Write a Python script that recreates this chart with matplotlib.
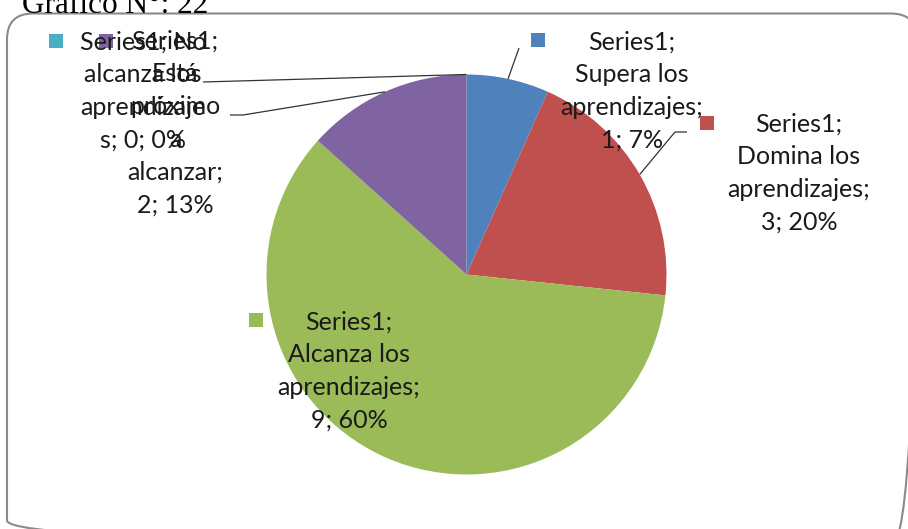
import numpy as np
import matplotlib
matplotlib.use("Agg")
import matplotlib.pyplot as plt
from matplotlib.patches import FancyBboxPatch, Rectangle

# ---------------- data ----------------
series_name = "Series1"
categories = ["Supera los aprendizajes", "Domina los aprendizajes",
              "Alcanza los aprendizajes", "Está próximo a alcanzar",
              "No alcanza los aprendizajes"]
values = [1, 3, 9, 2, 0]
colors = ["#4F81BD", "#C0504D", "#9BBB59", "#8064A2", "#4BACC6"]
title_text = "Gráfico N°: 22"

# how each category is wrapped in its data label (as in the reference)
wrapped = ["Supera los\naprendizajes;\n", "Domina los\naprendizajes;\n",
           "Alcanza los\naprendizajes;\n", "Está\npróximo\na\nalcanzar;\n",
           "No\nalcanza los\naprendizaje\ns; "]

total = sum(values)
pcts = [round(v / total * 100) for v in values]
labels = []
for i, (v, p) in enumerate(zip(values, pcts)):
    if i == 4:
        labels.append(f"{series_name}; No\nalcanza los\naprendizaje\ns; {v}; {p}%")
    else:
        labels.append(f"{series_name};\n{wrapped[i]}{v}; {p}%")

# ---------------- layout (pixels) ----------------
W, H = 908, 529
label_pos = [(632, 91), (799, 173), (349, 371), (175, 123), (143, 91)]
square_pos = [(538, 40), (707, 123), (256, 320), (106, 41), (56, 41)]
# leader line extra points (after start on pie edge)
leaders = {0: [(519, 48)], 1: [(675, 132), (687, 132)],
           3: [(243, 115), (230, 115)], 4: [(203, 82)]}

fig = plt.figure(figsize=(W / 100, H / 100), dpi=100)
fig.patch.set_facecolor("white")

# pie axes: center (466,274), radius 200
cx, cy, r = 466.5, 274.5, 200
axp = fig.add_axes([(cx - r) / W, (H - cy - r) / H, 2 * r / W, 2 * r / H])
wedges, _ = axp.pie(values, colors=colors, startangle=90, counterclock=False,
                    radius=1, wedgeprops=dict(linewidth=0))
axp.set_xlim(-1, 1)
axp.set_ylim(-1, 1)
axp.set_aspect("equal")
axp.axis("off")

# overlay axes in pixel coordinates
ov = fig.add_axes([0, 0, 1, 1], zorder=5)
ov.set_xlim(0, W)
ov.set_ylim(H, 0)
ov.axis("off")
ov.patch.set_alpha(0)

# border
border = FancyBboxPatch((7, 13.5), W + 2, H + 4,
                        boxstyle="round,pad=0,rounding_size=26",
                        facecolor="none", edgecolor="#8a8a8a", linewidth=1.5,
                        clip_on=False)
ov.add_patch(border)

# title
ov.text(22, 13, title_text, fontfamily="Liberation Serif", fontsize=22.5,
        color="black", ha="left", va="baseline")

def pie_to_pix(x, y):
    d = axp.transData.transform((x, y))
    return ov.transData.inverted().transform(d)

# leader lines
for i, w in enumerate(wedges):
    if i not in leaders:
        continue
    ang = np.deg2rad((w.theta1 + w.theta2) / 2)
    sx, sy = pie_to_pix(np.cos(ang), np.sin(ang))
    pts = [(sx, sy)] + leaders[i]
    ov.plot([p[0] for p in pts], [p[1] for p in pts], color="#333333",
            linewidth=0.9, solid_capstyle="butt")

# labels and squares
fs = 18
for i in range(len(values)):
    x, y = label_pos[i]
    ov.text(x, y, labels[i], fontfamily="Lato", fontsize=fs, color="#1a1a1a",
            ha="center", va="center", multialignment="center", linespacing=1.52)
    sx, sy = square_pos[i]
    ov.add_patch(Rectangle((sx - 7, sy - 7), 14, 14, facecolor=colors[i],
                           edgecolor="none"))

fig.savefig("out.png", dpi=100)
